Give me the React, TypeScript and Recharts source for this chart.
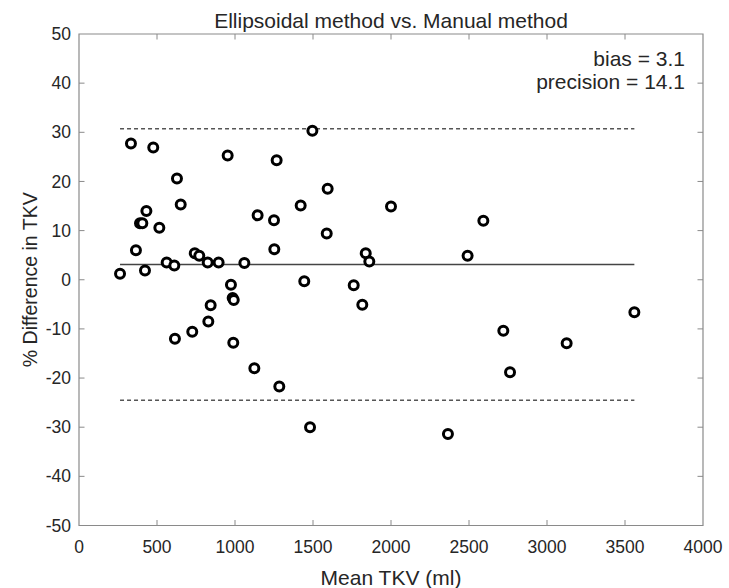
import React from 'react';
import { ScatterChart, Scatter, XAxis, YAxis, ReferenceLine, ReferenceArea, Label } from 'recharts';

// mean kidney volume (ml) and % difference per subject
const meanTkv = [
  263, 333, 365, 391, 406, 423, 432, 476, 515, 562, 611, 615, 628, 652, 726, 742, 771,
  825, 829, 844, 895, 953, 974, 985, 992, 989, 1060, 1124, 1145, 1250, 1252, 1267, 1284,
  1421, 1444, 1481, 1496, 1588, 1594, 1761, 1816, 1838, 1861, 2000, 2365, 2491, 2592,
  2720, 2763, 3126, 3560,
];
const pctDiff = [
  1.2, 27.7, 6.0, 11.5, 11.5, 1.9, 14.0, 26.9, 10.6, 3.5, 2.9, -12.0, 20.6, 15.3, -10.6, 5.4, 4.9,
  3.5, -8.5, -5.2, 3.5, 25.3, -1.0, -3.7, -4.1, -12.8, 3.4, -18.0, 13.1, 12.1, 6.2, 24.3, -21.7,
  15.1, -0.3, -30.0, 30.3, 9.4, 18.5, -1.1, -5.1, 5.4, 3.7, 14.9, -31.4, 4.9, 12.0,
  -10.4, -18.8, -12.9, -6.6,
];

const bias = 3.1;
const precision = 14.1;

const xTicks = [0, 500, 1000, 1500, 2000, 2500, 3000, 3500, 4000];
const yTicks = [-50, -40, -30, -20, -10, 0, 10, 20, 30, 40, 50];

const W = 729;
const H = 588;
const PLOT = { left: 79, right: 703, top: 34, bottom: 525.5 };
const FONT = '"Liberation Sans", Arial, sans-serif';
const TICK_LEN = 5.5;
const BOX = '#8a8a8a';

const points = meanTkv.map((x, i) => ({ x, y: pctDiff[i] }));
const xMin = Math.min(...meanTkv);
const xMax = Math.max(...meanTkv);
const upper = bias + 1.96 * precision;
const lower = bias - 1.96 * precision;

const XTick = (props: any) => {
  const { x, y, payload } = props;
  const edge = payload.value === xTicks[0] || payload.value === xTicks[xTicks.length - 1];
  return (
    <g>
      {!edge && (
        <>
          <line x1={x} x2={x} y1={PLOT.bottom} y2={PLOT.bottom - TICK_LEN} stroke={BOX} />
          <line x1={x} x2={x} y1={PLOT.top} y2={PLOT.top + TICK_LEN} stroke={BOX} />
        </>
      )}
      <text x={x} y={y} dy="0.71em" textAnchor="middle" fontSize={17.5} fill="#262626" fontFamily={FONT}>
        {payload.value}
      </text>
    </g>
  );
};

const YTick = (props: any) => {
  const { x, y, payload } = props;
  const edge = payload.value === yTicks[0] || payload.value === yTicks[yTicks.length - 1];
  return (
    <g>
      {!edge && (
        <>
          <line x1={PLOT.left} x2={PLOT.left + TICK_LEN} y1={y} y2={y} stroke={BOX} />
          <line x1={PLOT.right} x2={PLOT.right - TICK_LEN} y1={y} y2={y} stroke={BOX} />
        </>
      )}
      <text x={x} y={y} dy="0.35em" textAnchor="end" fontSize={17.5} fill="#262626" fontFamily={FONT}>
        {payload.value}
      </text>
    </g>
  );
};

const Ring = (props: any) => {
  const { cx, cy } = props;
  return <circle cx={cx} cy={cy} r={4.5} fill="#fff" stroke="#000" strokeWidth={3} />;
};

const App: React.FC = () => {
  return (
    <div style={{ position: 'absolute', left: 0, top: 0, width: W, height: H, background: '#fff', fontFamily: FONT }}>
      <div
        style={{
          position: 'absolute', left: PLOT.left, width: PLOT.right - PLOT.left, top: 9,
          textAlign: 'center', fontSize: 21, color: '#262626', lineHeight: '24px',
        }}
      >
        Ellipsoidal method vs. Manual method
      </div>
      <div
        style={{
          position: 'absolute', right: W - 685, top: 47, textAlign: 'right',
          fontSize: 21, color: '#262626', lineHeight: '23px',
        }}
      >
        <div>bias = {bias}</div>
        <div>precision = {precision}</div>
      </div>
      <ScatterChart width={W} height={H} margin={{ top: PLOT.top, right: W - PLOT.right, left: 0, bottom: 0 }}>
        <XAxis
          type="number"
          dataKey="x"
          domain={[0, 4000]}
          ticks={xTicks}
          height={H - PLOT.bottom}
          axisLine={false}
          tickLine={false}
          tickSize={0}
          tickMargin={15}
          tick={<XTick />}
          interval={0}
        >
          <Label
            value="Mean TKV (ml)"
            position="insideBottom"
            offset={3}
            style={{ fontSize: 21, fill: '#262626', fontFamily: FONT }}
          />
        </XAxis>
        <YAxis
          type="number"
          dataKey="y"
          domain={[-50, 50]}
          ticks={yTicks}
          width={PLOT.left}
          axisLine={false}
          tickLine={false}
          tickSize={0}
          tickMargin={8}
          tick={<YTick />}
          interval={0}
        >
          <Label
            value="% Difference in TKV"
            angle={-90}
            position="insideLeft"
            offset={30}
            style={{ fontSize: 19.5, fill: '#262626', fontFamily: FONT, textAnchor: 'middle' }}
          />
        </YAxis>
        <ReferenceArea x1={0} x2={4000} y1={-50} y2={50} fill="none" stroke={BOX} strokeWidth={1.2} ifOverflow="visible" />
        <ReferenceLine segment={[{ x: xMin, y: upper }, { x: xMax, y: upper }]} stroke="#555" strokeWidth={1.5} strokeDasharray="4 3" />
        <ReferenceLine segment={[{ x: xMin, y: bias }, { x: xMax, y: bias }]} stroke="#444" strokeWidth={1.5} />
        <ReferenceLine segment={[{ x: xMin, y: lower }, { x: xMax, y: lower }]} stroke="#555" strokeWidth={1.5} strokeDasharray="4 3" />
        <Scatter data={points} shape={<Ring />} isAnimationActive={false} />
      </ScatterChart>
    </div>
  );
};

export default App;
